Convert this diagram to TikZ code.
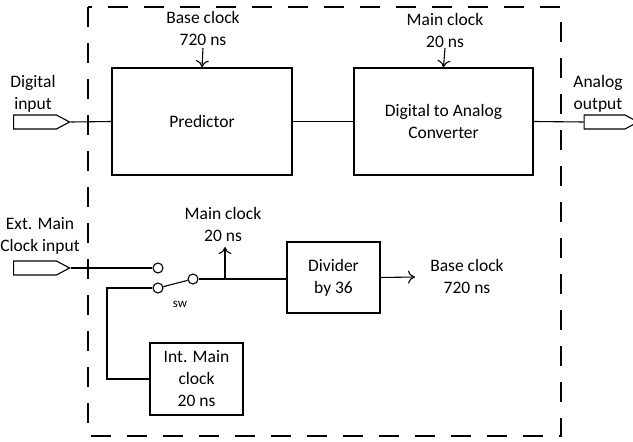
\documentclass[tikz,border=0pt]{standalone}
\usepackage{fontspec}
\setmainfont{Carlito}
\usetikzlibrary{positioning,shapes.symbols,arrows.meta}
\tikzstyle{blockNode}=[draw,line width=1.3pt,inner sep=0pt,align=center]
\tikzstyle{portNode}=[draw,line width=1.1pt,signal,signal to=east,signal pointer angle=56,minimum height=14pt,inner sep=0pt]
\tikzstyle{contactNode}=[draw,circle,line width=1.1pt,minimum size=10pt,inner sep=0pt,fill=white]
\tikzstyle{labelNode}=[align=center,inner sep=0pt]
\tikzstyle{wire}=[line width=1.1pt]
\tikzstyle{clockArrow}=[-{To[length=7pt,width=13pt]}, line width=1.1pt]

\begin{document}
\begin{tikzpicture}[x=1pt,y=-1pt,font=\fontsize{17.5}{22}\selectfont]
	\useasboundingbox (0,0) rectangle (633,442);
	% dashed outline of the unit
	\draw[line width=1.1pt, dash pattern=on 20pt off 16pt] (88,7) rectangle (561,436);
	
	\node[blockNode, minimum width=180pt, minimum height=107pt] (pred) at (202,121.5) {Predictor};
	\node[blockNode, minimum width=179pt, minimum height=107pt] (dac) at (443.5,121.5) {Digital to Analog\\Converter};
	\node[blockNode, minimum width=93pt, minimum height=71pt] (div) at (333.5,277.5) {Divider\\by 36};
	\node[blockNode, minimum width=93pt, minimum height=72pt] (intclk) at (196.5,379) {Int. Main\\clock\\20 ns};
	
	\node[portNode, minimum width=56pt] (din) at (35,122) {};
	\node[portNode, minimum width=54pt] (dout) at (604.5,122) {};
	\node[portNode, minimum width=56pt] (ext) at (35,268) {};
	
	\node[labelNode] (dinLabel) at (33,94) {Digital\\input};
	\node[labelNode] (doutLabel) at (598,94) {Analog\\output};
	\node[labelNode] (extLabel) at (40,236) {Ext. Main\\Clock input};
	\node[labelNode] (baseTop) at (203,28) {Base clock\\720 ns};
	\node[labelNode] (mainTop) at (445,30) {Main clock\\20 ns};
	\node[labelNode] (mainMid) at (223,224) {Main clock\\20 ns};
	\node[labelNode] (baseOut) at (467,276) {Base clock\\720 ns};
	
	% switch
	\node[contactNode] (c1) at (158,268) {};
	\node[contactNode] (c2) at (158,288) {};
	\node[contactNode] (c3) at (193,279) {};
	\node[labelNode, font=\fontsize{13}{15}\selectfont] (swLabel) at (180,304) {sw};
	
	\coordinate (baseTip) at (203,48);
	\coordinate (mainTip) at (445,48);
	\coordinate (tap) at (225,279);
	\coordinate (tapEnd) at (225,247);
	\coordinate (divEnd) at (415,277);
	\coordinate (bend) at (107,288);
	
	\draw[wire] (din.east) -- (pred.west);
	\draw[wire] (pred.east) -- (dac.west);
	\draw[wire] (dac.east) -- (dout.west);
	\draw[clockArrow] (baseTip) -- (pred.north);
	\draw[clockArrow] (mainTip) -- (dac.north);
	
	\draw[wire] (ext.east) -- (c1.west);
	\draw[wire] (c2) -- (c3);
	\draw[wire] (c3.east) -- (c3 -| div.west);
	\draw[clockArrow] (tap) -- (tapEnd);
	\draw[clockArrow] (div.east) -- (divEnd);
	\draw[wire] (c2.west) -- (bend) |- (intclk.west);
\end{tikzpicture}
\end{document}
